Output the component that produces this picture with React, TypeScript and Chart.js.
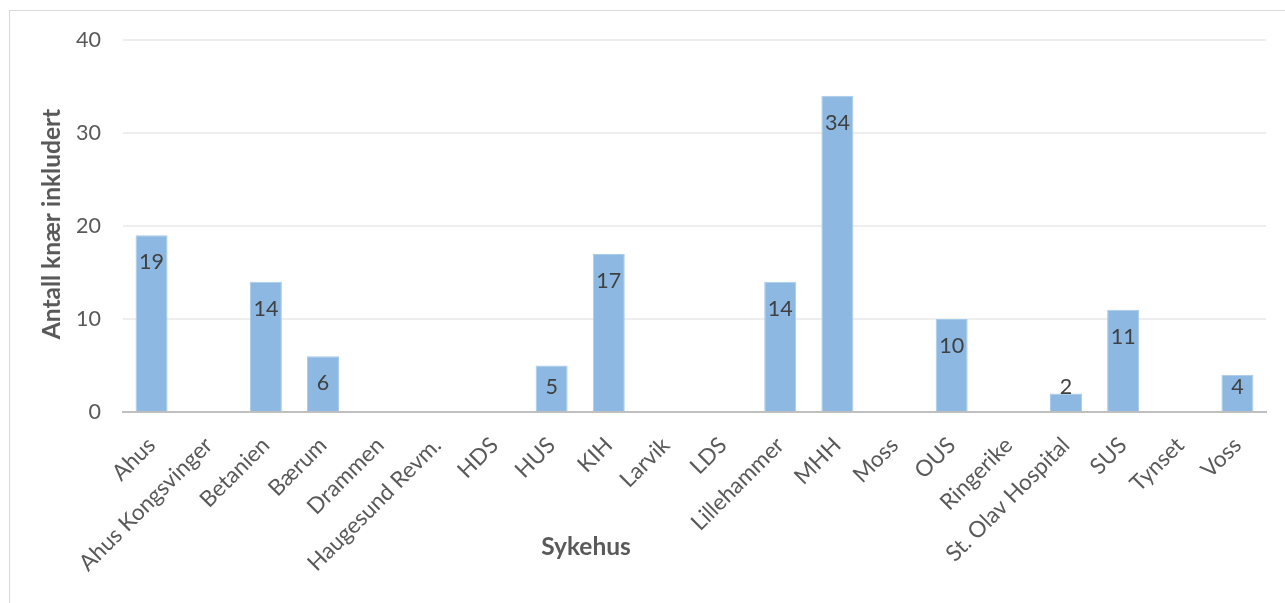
import React, { useEffect, useRef } from "react";
import { Chart, registerables } from "chart.js";

Chart.register(...registerables);

const categories = [
  "Ahus",
  "Ahus Kongsvinger",
  "Betanien",
  "Bærum",
  "Drammen",
  "Haugesund Revm.",
  "HDS",
  "HUS",
  "KIH",
  "Larvik",
  "LDS",
  "Lillehammer",
  "MHH",
  "Moss",
  "OUS",
  "Ringerike",
  "St. Olav Hospital",
  "SUS",
  "Tynset",
  "Voss",
];

const values: (number | null)[] = [
  19, null, 14, 6, null, null, null, 5, 17, null, null, 14, 34, null, 10, null, 2, 11, null, 4,
];

const yTicks = [0, 10, 20, 30, 40];

const xTitle = "Sykehus";
const yTitle = "Antall knær inkludert";

const FONT = "Lato, 'Noto Sans', sans-serif";

const labelsPlugin = {
  id: "customLabels",
  afterDatasetsDraw(chart: any) {
    const ctx = chart.ctx;
    const meta = chart.getDatasetMeta(0);
    const yScale = chart.scales.y;
    const base = yScale.getPixelForValue(0);
    ctx.save();
    ctx.font = `21.5px ${FONT}`;
    ctx.fillStyle = "#404040";
    ctx.textAlign = "center";
    ctx.textBaseline = "middle";
    meta.data.forEach((bar: any, i: number) => {
      const v = values[i];
      if (v === null || v === undefined) return;
      const y = Math.min(bar.y + 27, base - 25);
      ctx.fillText(String(v), bar.x, y);
    });
    ctx.restore();
  },
  afterDraw(chart: any) {
    const ctx = chart.ctx;
    ctx.save();
    ctx.font = `bold 24.5px ${FONT}`;
    ctx.fillStyle = "#595959";
    ctx.textAlign = "center";
    ctx.textBaseline = "middle";
    ctx.fillText(xTitle, 586, 547);
    ctx.translate(52, 224);
    ctx.rotate(-Math.PI / 2);
    ctx.fillText(yTitle, 0, 0);
    ctx.restore();
  },
};

export default function App() {
  const ref = useRef<HTMLCanvasElement | null>(null);

  useEffect(() => {
    if (!ref.current) return;
    const chart = new Chart(ref.current, {
      type: "bar",
      data: {
        labels: categories,
        datasets: [
          {
            data: values,
            backgroundColor: "#8db8e2",
            borderColor: "#a9cbea",
            borderWidth: 1,
            barPercentage: 0.56,
            categoryPercentage: 1,
          },
        ],
      },
      options: {
        responsive: false,
        animation: false,
        layout: { padding: { top: 40, right: 19, left: 0, bottom: 0 } },
        plugins: {
          legend: { display: false },
          tooltip: { enabled: false },
          title: { display: false },
        },
        scales: {
          x: {
            grid: { display: false },
            border: { color: "#bfbfbf", width: 2 },
            ticks: {
              autoSkip: false,
              minRotation: 45,
              maxRotation: 45,
              padding: 12,
              color: "#595959",
              font: { family: FONT, size: 22.5 },
            },
            afterFit(scale: any) {
              scale.height = 191;
            },
          },
          y: {
            min: 0,
            max: 40,
            afterBuildTicks(scale: any) {
              scale.ticks = yTicks.map((v) => ({ value: v }));
            },
            grid: {
              color: (c: any) => (c.tick && c.tick.value === 0 ? "rgba(0,0,0,0)" : "#eeeeee"),
              lineWidth: 2,
              drawTicks: false,
            },
            border: { display: false },
            ticks: {
              padding: 22,
              color: "#595959",
              font: { family: FONT, size: 21.5 },
            },
            afterFit(scale: any) {
              scale.width = 123;
            },
          },
        },
      },
      plugins: [labelsPlugin],
    });
    return () => chart.destroy();
  }, []);

  return (
    <div>
      <div
        style={{
          position: "fixed",
          left: 9,
          top: 10,
          width: 1400,
          height: 700,
          border: "1px solid #d9d9d9",
          boxSizing: "border-box",
          background: "#fff",
        }}
      />
      <canvas
        ref={ref}
        width={1285}
        height={603}
        style={{ position: "fixed", left: 0, top: 0, width: 1285, height: 603 }}
      />
    </div>
  );
}
